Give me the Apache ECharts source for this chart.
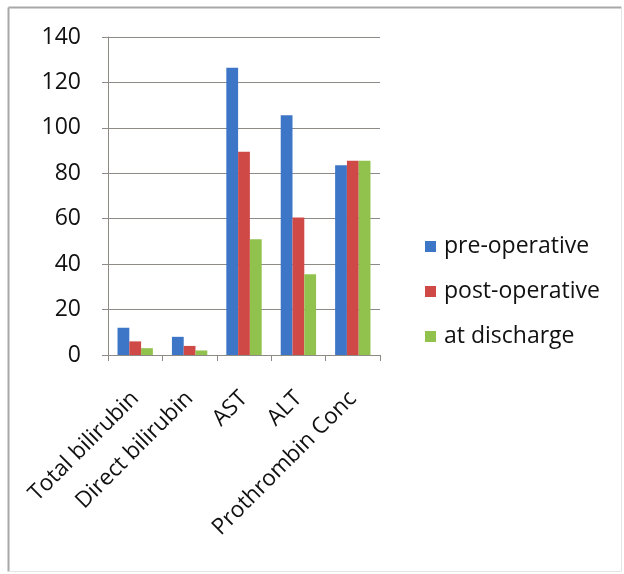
<!DOCTYPE html>
<html>
<head>
<meta charset="utf-8">
<script src="https://cdn.jsdelivr.net/npm/echarts@6/dist/echarts.min.js"></script>
<style>
  html, body { margin: 0; padding: 0; background: #fff; }
  #chart { width: 624px; height: 574px; }
</style>
</head>
<body>
<div id="chart"></div>
<script>
// Liver function markers across three time points
const categories = ['Total bilirubin', 'Direct bilirubin', 'AST', 'ALT', 'Prothrombin Conc'];
const preOperative = [12, 8, 126.5, 105.5, 83.5];
const postOperative = [6, 4, 89.5, 60.5, 85.5];
const atDischarge = [3, 2, 51, 35.5, 85.5];
const seriesNames = ['pre-operative', 'post-operative', 'at discharge'];
const yTicks = { min: 0, max: 140, interval: 20 };

const FONT = 'Open Sans';
const colors = ['#3d76c6', '#cf4a47', '#92c24e'];
const gridColor = '#8e8a86';
const textColor = '#111111';

const chart = echarts.init(document.getElementById('chart'), null, { renderer: 'canvas' });

const bar = (name, data, color) => ({
  name,
  type: 'bar',
  data,
  barGap: '0%',
  barCategoryGap: '35%',
  itemStyle: { color },
  emphasis: { disabled: true }
});

chart.setOption({
  backgroundColor: '#ffffff',
  animation: false,
  color: colors,
  grid: { left: 108, right: 244, top: 37, bottom: 219, containLabel: false },
  graphic: [
    // outer frame
    { type: 'line', shape: { x1: 8.5, y1: 7.5, x2: 621.5, y2: 7.5 }, style: { stroke: '#a8a8a8', lineWidth: 2 } },
    { type: 'line', shape: { x1: 8.5, y1: 7.5, x2: 8.5, y2: 571.5 }, style: { stroke: '#a8a8a8', lineWidth: 2 } },
    { type: 'line', shape: { x1: 621.5, y1: 7.5, x2: 621.5, y2: 571.5 }, style: { stroke: '#e4e4e4', lineWidth: 1 } },
    { type: 'line', shape: { x1: 8.5, y1: 571.5, x2: 621.5, y2: 571.5 }, style: { stroke: '#e4e4e4', lineWidth: 1 } }
  ],
  legend: {
    orient: 'vertical',
    left: 420,
    top: 230,
    itemWidth: 11,
    itemHeight: 11,
    itemGap: 22,
    icon: 'rect',
    data: seriesNames,
    textStyle: { fontFamily: FONT, fontSize: 23, color: textColor, padding: [0, 0, 0, 3] }
  },
  xAxis: {
    type: 'category',
    data: categories,
    axisLine: { lineStyle: { color: gridColor, width: 1 } },
    axisTick: { show: true, alignWithLabel: false, length: 6, lineStyle: { color: gridColor } },
    axisLabel: {
      interval: 0,
      rotate: 45,
      margin: 40,
      fontFamily: FONT,
      fontSize: 22.5,
      color: textColor
    }
  },
  yAxis: {
    type: 'value',
    min: yTicks.min,
    max: yTicks.max,
    interval: yTicks.interval,
    axisLine: { show: true, lineStyle: { color: gridColor, width: 1 } },
    axisTick: { show: true, length: 6, lineStyle: { color: gridColor } },
    splitLine: { show: true, lineStyle: { color: gridColor, width: 1 } },
    axisLabel: { margin: 27, fontFamily: FONT, fontSize: 23, color: textColor }
  },
  series: [
    bar(seriesNames[0], preOperative, colors[0]),
    bar(seriesNames[1], postOperative, colors[1]),
    bar(seriesNames[2], atDischarge, colors[2])
  ]
});
</script>
</body>
</html>
